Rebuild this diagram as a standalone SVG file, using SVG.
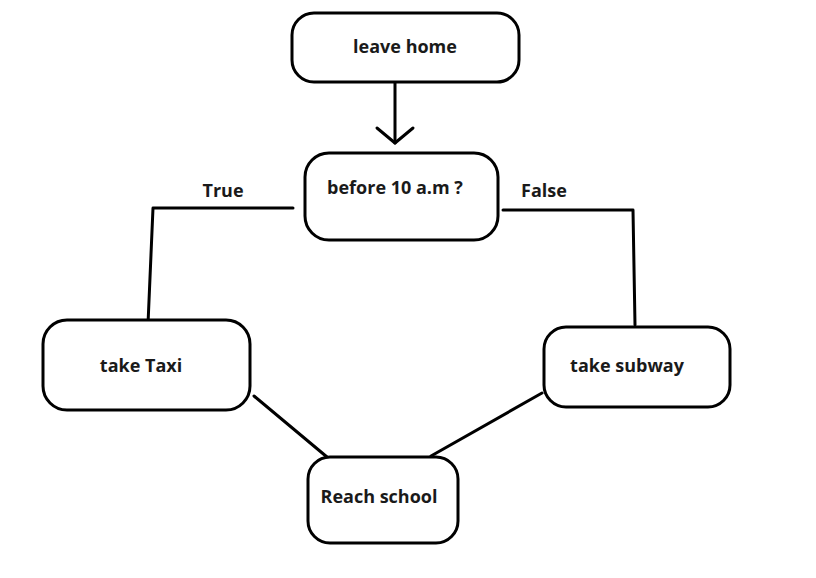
<svg xmlns="http://www.w3.org/2000/svg" width="816" height="578" viewBox="0 0 816 578">
<style>
.box{fill:#fff;stroke:#000;stroke-width:3}
.t{font-family:"Open Sans","Noto Sans","Liberation Sans",sans-serif;font-weight:700;font-size:18px;fill:#1a1a1a}
.c{fill:none;stroke:#000;stroke-width:3;stroke-linecap:round;stroke-linejoin:round}
</style>
<rect width="816" height="578" fill="#fff"/>
<g id="connectors">
<path class="c" d="M395,82 L395,143"/>
<path class="c" d="M377,128 L395,143 L413,128"/>
<path class="c" d="M293,208 L153,208 L148,324"/>
<path class="c" d="M503,210 L633,210 L635,325"/>
<path class="c" d="M254,396 L327,457"/>
<path class="c" d="M542,393 L431,456"/>
<text class="t" x="223" y="197" text-anchor="middle">True</text>
<text class="t" x="544" y="197" text-anchor="middle">False</text>
</g>
<g id="leave-home">
<rect class="box" x="292" y="13" width="227" height="69" rx="22"/>
<text class="t" x="405" y="53" text-anchor="middle">leave home</text>
</g>
<g id="before-10">
<rect class="box" x="305" y="153" width="193" height="87" rx="24"/>
<text class="t" x="395" y="194" text-anchor="middle">before 10 a.m ?</text>
</g>
<g id="take-taxi">
<rect class="box" x="43" y="320" width="207" height="90" rx="24"/>
<text class="t" x="141" y="372" text-anchor="middle">take Taxi</text>
</g>
<g id="take-subway">
<rect class="box" x="544" y="327" width="186" height="80" rx="22"/>
<text class="t" x="627" y="372" text-anchor="middle">take subway</text>
</g>
<g id="reach-school">
<rect class="box" x="308" y="457" width="150" height="86" rx="22"/>
<text class="t" x="379" y="503" text-anchor="middle">Reach school</text>
</g>
</svg>
